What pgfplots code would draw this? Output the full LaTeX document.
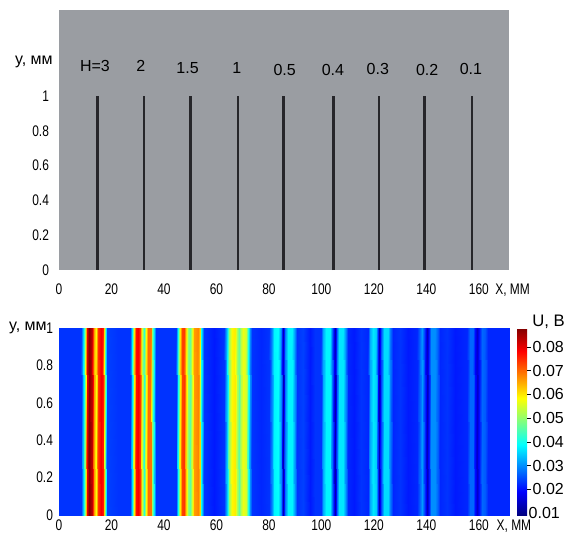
\documentclass[border=0pt]{standalone}
\usepackage{fontspec}
\setmainfont{Liberation Sans}
\newfontfamily\narrow{Liberation Sans}[FakeStretch=0.78]
\usepackage{pgfplots}
\usepackage{pgfplotstable}
\pgfplotsset{compat=1.18}

\definecolor{panelgray}{RGB}{154,157,162}
\definecolor{crack}{RGB}{38,38,42}

% U along x (the field does not change with y)
\pgfplotstableread{
x u
0 0.023
4 0.023
8.2 0.023
9.0 0.034
9.9 0.050
10.6 0.080
11.5 0.088
12.4 0.083
13.3 0.066
14.1 0.058
14.9 0.074
15.9 0.079
16.8 0.076
17.5 0.048
18.2 0.024
22.5 0.023
27.0 0.023
27.9 0.036
28.6 0.060
29.2 0.077
30.2 0.079
30.9 0.074
31.5 0.055
32.5 0.042
33.3 0.058
34.0 0.070
35.0 0.069
35.6 0.050
36.4 0.030
37.0 0.023
41.0 0.023
44.5 0.023
45.3 0.040
46.0 0.060
46.9 0.073
47.8 0.074
48.5 0.062
49.3 0.050
50.0 0.046
50.8 0.055
51.6 0.066
52.8 0.068
53.6 0.062
54.3 0.040
55.1 0.023
59.0 0.021
63.0 0.023
64.0 0.035
64.9 0.050
65.8 0.059
67.0 0.060
67.8 0.052
68.5 0.046
69.3 0.053
70.3 0.057
71.2 0.055
72.0 0.042
72.8 0.030
73.5 0.023
77.0 0.022
80.0 0.023
81.0 0.030
82.0 0.038
83.5 0.039
84.5 0.030
85.4 0.013
86.3 0.028
87.2 0.038
88.8 0.038
89.8 0.030
90.6 0.023
93.0 0.024
95.5 0.021
97.5 0.023
99.8 0.023
100.8 0.032
101.8 0.038
103.3 0.038
104.2 0.028
105.0 0.013
105.8 0.027
106.8 0.037
108.2 0.037
109.2 0.029
110.0 0.022
112.5 0.021
115.0 0.023
117.7 0.022
118.7 0.032
119.7 0.037
120.8 0.035
121.5 0.022
122.0 0.013
122.8 0.024
123.8 0.036
125.2 0.036
126.3 0.029
127.2 0.022
130.0 0.023
133.0 0.021
136.5 0.022
137.5 0.027
138.5 0.031
139.4 0.022
140.1 0.014
140.9 0.021
141.8 0.030
143.2 0.030
144.3 0.026
145.2 0.022
148.0 0.023
151.0 0.021
155.5 0.022
156.8 0.027
157.8 0.027
158.7 0.020
159.4 0.015
160.2 0.020
161.2 0.027
162.4 0.026
163.5 0.022
167.0 0.022
171.5 0.022
}\stripes
\pgfplotstablegetrowsof{\stripes}
\xdef\nrow{\pgfplotsretval}
% two copies: one row at y=0, one at y=1
\pgfplotstablevertcat{\stripesall}{\stripes}
\pgfplotstablevertcat{\stripesall}{\stripes}

\pgfplotsset{
  panel/.style={
    scale only axis, width=337.5pt, xmin=0, xmax=171.5,
    axis line style={draw=none}, major tick length=0pt,
    xtick={0,20,40,60,80,100,120,140,160},
    ytick={0,0.2,0.4,0.6,0.8,1},
    /pgf/number format/assume math mode=true,
    tick label style={font=\narrow\fontsize{11.5}{13}\selectfont},
    clip=false,
  },
}
\newcommand\labfont{\fontsize{12}{14}\selectfont}
\newcommand\xlabfont{\narrow\fontsize{11.5}{13}\selectfont}

\begin{document}
\begin{tikzpicture}
\useasboundingbox (-44.25pt,-396pt) rectangle (383.25pt,7.5pt);

\begin{axis}[panel, at={(0,0)}, anchor=north west,
  height=195pt, ymin=0, ymax=1.494,
  axis background/.style={fill=panelgray},
  xticklabel style={yshift=-7pt},
  yticklabel style={xshift=-4pt},
  ]
  \addplot[ycomb, crack, line width=2pt]
    coordinates {(14.7,1) (32.4,1) (50.0,1) (68.2,1) (85.6,1) (104.6,1) (121.9,1)};
  \addplot[ycomb, crack, line width=1.6pt]
    coordinates {(139.3,1) (157.3,1)};
  \node[font=\labfont] at (axis cs:13.7,1.17) {H=3};
  \node[font=\labfont] at (axis cs:31.2,1.17) {2};
  \node[font=\labfont] at (axis cs:49.0,1.16) {1.5};
  \node[font=\labfont] at (axis cs:67.8,1.16) {1};
  \node[font=\labfont] at (axis cs:86.0,1.15) {0.5};
  \node[font=\labfont] at (axis cs:104.4,1.15) {0.4};
  \node[font=\labfont] at (axis cs:121.5,1.155) {0.3};
  \node[font=\labfont] at (axis cs:140.3,1.15) {0.2};
  \node[font=\labfont] at (axis cs:157.0,1.155) {0.1};
  \node[anchor=base east, inner sep=0pt, font=\labfont] at (axis cs:0,1.178) [xshift=-4.5pt] {y, мм};
  \node[anchor=north west, font=\xlabfont] at (axis cs:164.5,0) [yshift=-7pt] {X, ММ};
\end{axis}

\begin{axis}[panel, at={(0,-238.5pt)}, anchor=north west,
  height=140.25pt, ymin=0, ymax=1,
  yticklabel style={xshift=-1pt},
  colormap/jet, point meta min=0.0092, point meta max=0.088,
  colorbar,
  colorbar style={
    at={(parent axis.north east)}, anchor=north west, xshift=-2.5pt,
    scale only axis, width=7.5pt, height=140.25pt,
    xtick=\empty,
    scaled y ticks=false,
    ytick={0.02,0.03,0.04,0.05,0.06,0.07,0.08},
    yticklabels={0.02,0.03,0.04,0.05,0.06,0.07,0.08},
    extra y ticks={0.01}, extra y tick labels={0.01},
    extra y tick style={major tick length=0pt},
    ytick pos=right, yticklabel pos=right,
    tick align=outside, major tick length=3pt,
    tick style={black, line width=0.6pt},
    axis line style={draw=none},
    yticklabel style={font=\fontsize{12}{14}\selectfont, inner sep=1pt},
  },
  ]
  \addplot[surf, shader=interp, mesh/rows=2, point meta=\thisrow{u}]
    table[x=x, y expr={\coordindex<\nrow ? 0 : 1}] {\stripesall};
  \node[anchor=base east, inner sep=0pt, font=\labfont] at (axis cs:0,1) [xshift=-9pt, yshift=-1.5pt] {y, мм};
  \node[anchor=north west, font=\xlabfont] at (axis cs:165,0) {X, ММ};
  \node[anchor=base west, inner sep=0pt, font=\fontsize{12.5}{14}\selectfont] at (rel axis cs:1,1) [xshift=17.25pt, yshift=1pt] {U, В};
\end{axis}
\end{tikzpicture}
\end{document}
